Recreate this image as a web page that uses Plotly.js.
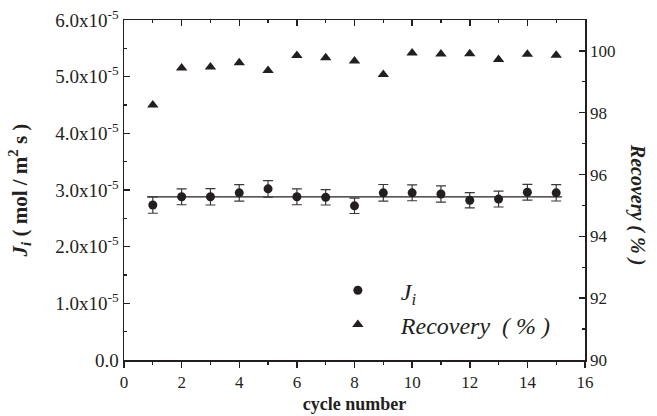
<!DOCTYPE html>
<html>
<head>
<meta charset="utf-8">
<script src="https://cdn.plot.ly/plotly-3.0.1.min.js"></script>
<style>html,body{margin:0;padding:0;background:#fff;}#chart{width:657px;height:416px;}</style>
</head>
<body>
<div id="chart"></div>
<script>
// Data
var cycles = [1, 2, 3, 4, 5, 6, 7, 8, 9, 10, 11, 12, 13, 14, 15];
var fluxJi = [2.735e-5, 2.88e-5, 2.88e-5, 2.95e-5, 3.02e-5, 2.88e-5, 2.87e-5, 2.72e-5, 2.95e-5, 2.95e-5, 2.93e-5, 2.82e-5, 2.84e-5, 2.96e-5, 2.95e-5];
var fluxErr = [0.145e-5, 0.14e-5, 0.145e-5, 0.145e-5, 0.147e-5, 0.14e-5, 0.135e-5, 0.135e-5, 0.147e-5, 0.14e-5, 0.144e-5, 0.135e-5, 0.14e-5, 0.14e-5, 0.144e-5];
var recovery = [98.25, 99.45, 99.48, 99.62, 99.37, 99.85, 99.78, 99.67, 99.24, 99.93, 99.9, 99.91, 99.72, 99.89, 99.86];
var fitX = [0.8, 15.2];
var fitY = [2.88e-5, 2.88e-5];
var leftTickVals = [0, 1e-5, 2e-5, 3e-5, 4e-5, 5e-5, 6e-5];
var leftTickText = ['0.0', '1.0x10<sup>-5</sup>', '2.0x10<sup>-5</sup>', '3.0x10<sup>-5</sup>', '4.0x10<sup>-5</sup>', '5.0x10<sup>-5</sup>', '6.0x10<sup>-5</sup>'];

var FONT = '"Liberation Serif", "Times New Roman", serif';
var INK = '#231f20';

var traces = [
  {
    x: fitX, y: fitY, mode: 'lines', type: 'scatter',
    line: {color: INK, width: 1.3}, showlegend: false, hoverinfo: 'skip'
  },
  {
    x: cycles, y: fluxJi, mode: 'markers', type: 'scatter',
    name: '<i>J<sub>i</sub></i>',
    marker: {symbol: 'circle', size: 9, color: INK},
    error_y: {type: 'data', array: fluxErr, visible: true, color: '#3a3a3a', thickness: 1.2, width: 5}
  },
  {
    x: cycles, y: recovery, mode: 'markers', type: 'scatter', yaxis: 'y2',
    name: '<i>Recovery  ( % )</i>',
    marker: {symbol: 'triangle-up', size: 10, color: INK}
  },
  {
    x: [0], y: [0], xaxis: 'x2', mode: 'markers', marker: {opacity: 0}, showlegend: false, hoverinfo: 'skip'
  }
];

var layout = {
  width: 657, height: 416,
  margin: {l: 124, r: 72, t: 20, b: 56},
  paper_bgcolor: '#fff', plot_bgcolor: '#fff',
  font: {family: FONT, size: 16, color: INK},
  showlegend: true,
  legend: {
    x: 0.414, y: 0.27, xanchor: 'left', yanchor: 'top',
    bgcolor: 'rgba(0,0,0,0)', borderwidth: 0,
    font: {family: FONT, size: 24, color: INK},
    itemwidth: 76, tracegroupgap: 0
  },
  xaxis: {
    range: [0, 16], tickmode: 'linear', tick0: 0, dtick: 2,
    ticks: 'outside', ticklen: 6, tickwidth: 1.5, tickcolor: INK,
    minor: {ticks: 'outside', ticklen: 3, tickwidth: 1.2, dtick: 1, tickcolor: INK},
    showline: true, linecolor: INK, linewidth: 1.5, showgrid: false, zeroline: false,
    tickfont: {family: FONT, size: 17, color: INK},
    title: {text: '<b>cycle number</b>', font: {family: FONT, size: 18, color: INK}, standoff: 6}
  },
  xaxis2: {
    overlaying: 'x', side: 'top', range: [0, 16], tickmode: 'linear', tick0: 0, dtick: 2,
    ticks: 'inside', ticklen: 6, tickwidth: 1.5, tickcolor: INK,
    minor: {ticks: 'inside', ticklen: 3, tickwidth: 1.2, dtick: 1, tickcolor: INK},
    showticklabels: false, showline: true, linecolor: INK, linewidth: 1.5, showgrid: false, zeroline: false
  },
  yaxis: {
    range: [0, 6e-5], tickmode: 'array', tickvals: leftTickVals, ticktext: leftTickText,
    ticks: 'inside', ticklen: 6, tickwidth: 1.5, tickcolor: INK,
    minor: {ticks: 'inside', ticklen: 3, tickwidth: 1.2, tickmode: 'linear', tick0: 0, dtick: 0.5e-5, tickcolor: INK},
    showline: true, linecolor: INK, linewidth: 1.5, showgrid: false, zeroline: false,
    tickfont: {family: FONT, size: 19, color: INK},
    title: {text: '<b><i>J<sub>i</sub></i> ( mol / m<sup>2</sup> s )</b>', font: {family: FONT, size: 21, color: INK}, standoff: 22}
  },
  yaxis2: {
    overlaying: 'y', side: 'right', range: [90, 101], tickmode: 'linear', tick0: 90, dtick: 2,
    ticks: 'inside', ticklen: 6, tickwidth: 1.5, tickcolor: INK,
    minor: {ticks: 'inside', ticklen: 3, tickwidth: 1.2, dtick: 1, tickcolor: INK},
    showline: true, linecolor: INK, linewidth: 1.5, showgrid: false, zeroline: false,
    tickfont: {family: FONT, size: 17, color: INK}
  },
  annotations: [
    {
      text: '<b><i>Recovery ( % )</i></b>', textangle: 90,
      xref: 'paper', yref: 'paper', x: 1.113, y: 0.456, xanchor: 'center', yanchor: 'middle',
      showarrow: false, font: {family: FONT, size: 20, color: INK}
    }
  ]
};

Plotly.newPlot('chart', traces, layout, {displayModeBar: false, staticPlot: true});
</script>
</body>
</html>
